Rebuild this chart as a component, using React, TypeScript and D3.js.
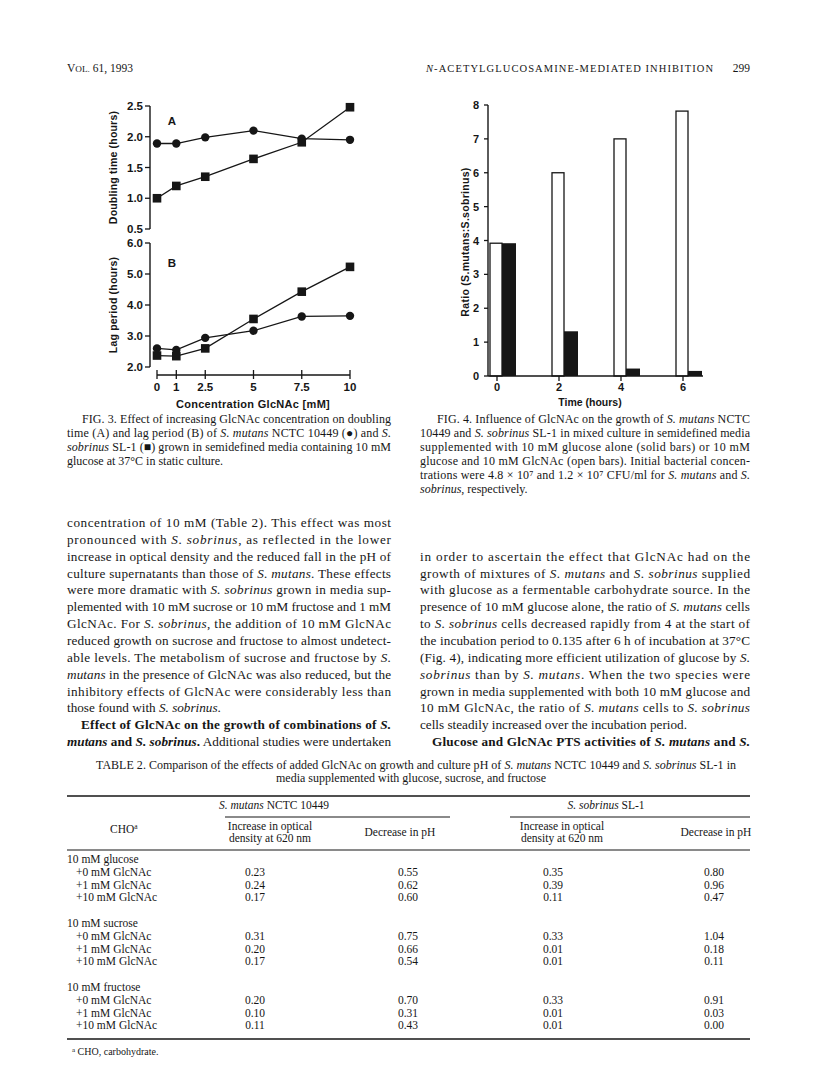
import React from 'react';
import * as d3 from 'd3';

const SERIF = '"Liberation Serif", "Times New Roman", Times, serif';
const SANS = '"Liberation Sans", Arial, Helvetica, sans-serif';
const INK = '#161616';

// FIG. 3 data (GlcNAc concentration, mM)
const glcnacConc = [0, 1, 2.5, 5, 7.5, 10];
const glcnacTickLabels = ['0', '1', '2.5', '5', '7.5', '10'];
const doublingMutans = [1.89, 1.89, 1.99, 2.1, 1.97, 1.95];
const doublingSobrinus = [1.0, 1.2, 1.35, 1.64, 1.91, 2.48];
const lagMutans = [2.6, 2.55, 2.94, 3.17, 3.63, 3.65];
const lagSobrinus = [2.37, 2.35, 2.6, 3.55, 4.43, 5.23];
const doublingTicks = [0.5, 1.0, 1.5, 2.0, 2.5];
const lagTicks = [2, 3, 4, 5, 6];

// FIG. 4 data
const hours = [0, 2, 4, 6];
const ratioOpen = [3.92, 6.0, 7.0, 7.82];
const ratioSolid = [3.92, 1.32, 0.22, 0.15];
const ratioTicks = [0, 1, 2, 3, 4, 5, 6, 7, 8];

// TABLE 2 data
const choGroups = ['10 mM glucose', '10 mM sucrose', '10 mM fructose'];
const glcnacLevels = ['+0 mM GlcNAc', '+1 mM GlcNAc', '+10 mM GlcNAc'];
const mutansOD = [[0.23, 0.24, 0.17], [0.31, 0.2, 0.17], [0.2, 0.1, 0.11]];
const mutansPH = [[0.55, 0.62, 0.6], [0.75, 0.66, 0.54], [0.7, 0.31, 0.43]];
const sobrinusOD = [[0.35, 0.39, 0.11], [0.33, 0.01, 0.01], [0.33, 0.01, 0.01]];
const sobrinusPH = [[0.8, 0.96, 0.47], [1.04, 0.18, 0.11], [0.91, 0.03, 0.0]];

// text lines: *..* italic, #..# bold, leading ~ indent, trailing $ = not justified
const fig3Caption = [
  '~FIG. 3. Effect of increasing GlcNAc concentration on doubling',
  'time (A) and lag period (B) of *S. mutans* NCTC 10449 (\u25CF) and *S.*',
  '*sobrinus* SL-1 (\u25A0) grown in semidefined media containing 10 mM',
  'glucose at 37°C in static culture.$',
];
const fig4Caption = [
  '~FIG. 4. Influence of GlcNAc on the growth of *S. mutans* NCTC',
  '10449 and *S. sobrinus* SL-1 in mixed culture in semidefined media',
  'supplemented with 10 mM glucose alone (solid bars) or 10 mM',
  'glucose and 10 mM GlcNAc (open bars). Initial bacterial concen-',
  'trations were 4.8 \u00D7 10\u2077 and 1.2 \u00D7 10\u2077 CFU/ml for *S. mutans* and *S.*',
  '*sobrinus*, respectively.$',
];
const leftBody = [
  'concentration of 10 mM (Table 2). This effect was most',
  'pronounced with *S. sobrinus*, as reflected in the lower',
  'increase in optical density and the reduced fall in the pH of',
  'culture supernatants than those of *S. mutans*. These effects',
  'were more dramatic with *S. sobrinus* grown in media sup-',
  'plemented with 10 mM sucrose or 10 mM fructose and 1 mM',
  'GlcNAc. For *S. sobrinus*, the addition of 10 mM GlcNAc',
  'reduced growth on sucrose and fructose to almost undetect-',
  'able levels. The metabolism of sucrose and fructose by *S.*',
  '*mutans* in the presence of GlcNAc was also reduced, but the',
  'inhibitory effects of GlcNAc were considerably less than',
  'those found with *S. sobrinus*.$',
  '~#Effect of GlcNAc on the growth of combinations of *S.*#',
  '#*mutans* and *S. sobrinus*.# Additional studies were undertaken',
];
const rightBody = [
  'in order to ascertain the effect that GlcNAc had on the',
  'growth of mixtures of *S. mutans* and *S. sobrinus* supplied',
  'with glucose as a fermentable carbohydrate source. In the',
  'presence of 10 mM glucose alone, the ratio of *S. mutans* cells',
  'to *S. sobrinus* cells decreased rapidly from 4 at the start of',
  'the incubation period to 0.135 after 6 h of incubation at 37°C',
  '(Fig. 4), indicating more efficient utilization of glucose by *S.*',
  '*sobrinus* than by *S. mutans*. When the two species were',
  'grown in media supplemented with both 10 mM glucose and',
  '10 mM GlcNAc, the ratio of *S. mutans* cells to *S. sobrinus*',
  'cells steadily increased over the incubation period.$',
  '~#Glucose and GlcNAc PTS activities of *S. mutans* and *S.*#',
];

function parseLine(raw: string) {
  let s = raw;
  const indent = s.startsWith('~');
  if (indent) s = s.slice(1);
  const ragged = s.endsWith('$');
  if (ragged) s = s.slice(0, -1);
  const segs: { t: string; i: boolean; b: boolean }[] = [];
  let i = false, b = false, buf = '';
  for (const ch of s) {
    if (ch === '*' || ch === '#') {
      if (buf) segs.push({ t: buf, i, b });
      buf = '';
      if (ch === '*') i = !i; else b = !b;
    } else buf += ch;
  }
  if (buf) segs.push({ t: buf, i, b });
  return { indent, ragged, segs };
}

function TextBlock({ lines, x, y0, lead, width, size, indent = 14 }: any) {
  return (
    <g fontFamily={SERIF} fontSize={size} fill={INK}>
      {lines.map((raw: string, k: number) => {
        const { indent: ind, ragged, segs } = parseLine(raw);
        const dx = ind ? indent : 0;
        return (
          <text key={k} x={x + dx} y={y0 + k * lead}
            textLength={ragged ? undefined : width - dx}
            lengthAdjust={ragged ? undefined : 'spacing'}>
            {segs.map((sg, j) => (
              <tspan key={j} fontStyle={sg.i ? 'italic' : undefined} fontWeight={sg.b ? 'bold' : undefined}>{sg.t}</tspan>
            ))}
          </text>
        );
      })}
    </g>
  );
}

function Fig3() {
  const x = d3.scaleLinear().domain([0, 10]).range([157, 350]);
  const yA = d3.scaleLinear().domain([0.5, 2.5]).range([229, 106]);
  const yB = d3.scaleLinear().domain([2, 6]).range([367, 243]);
  const ax = 150;
  const mk = (ys: d3.ScaleLinear<number, number>, vals: number[]) =>
    d3.line<number>().x((_, i) => x(glcnacConc[i])).y(v => ys(v))(vals) || '';
  const panel = (ys: d3.ScaleLinear<number, number>, ticks: number[], circ: number[], sq: number[]) => (
    <g>
      <line x1={ax} x2={ax} y1={ys.range()[1]} y2={ys.range()[0]} stroke={INK} strokeWidth={1.4} />
      {ticks.map(t => (
        <g key={t}>
          <line x1={ax - 5} x2={ax} y1={ys(t)} y2={ys(t)} stroke={INK} strokeWidth={1.3} />
          <text x={ax - 7} y={ys(t) + 4} textAnchor="end" fontSize={11.5} fontWeight="bold">{d3.format('.1f')(t)}</text>
        </g>
      ))}
      <path d={mk(ys, circ)} fill="none" stroke={INK} strokeWidth={1.3} />
      <path d={mk(ys, sq)} fill="none" stroke={INK} strokeWidth={1.3} />
      {circ.map((v, i) => <circle key={'c' + i} cx={x(glcnacConc[i])} cy={ys(v)} r={4.2} fill={INK} />)}
      {sq.map((v, i) => <rect key={'s' + i} x={x(glcnacConc[i]) - 4.3} y={ys(v) - 4.3} width={8.6} height={8.6} fill={INK} />)}
    </g>
  );
  return (
    <g fontFamily={SANS} fill={INK}>
      {panel(yA, doublingTicks, doublingMutans, doublingSobrinus)}
      {panel(yB, lagTicks, lagMutans, lagSobrinus)}
      <text x={172} y={125} textAnchor="middle" fontSize={11.5} fontWeight="bold">A</text>
      <text x={172} y={267} textAnchor="middle" fontSize={11.5} fontWeight="bold">B</text>
      <text transform="translate(117,167.5) rotate(-90)" textAnchor="middle" fontSize={10.5} fontWeight="bold" letterSpacing={0.2}>Doubling time (hours)</text>
      <text transform="translate(117,305) rotate(-90)" textAnchor="middle" fontSize={10.5} fontWeight="bold" letterSpacing={0.2}>Lag period (hours)</text>
      <line x1={x(0)} x2={x(10)} y1={375} y2={375} stroke={INK} strokeWidth={1.4} />
      {glcnacConc.map((c, i) => (
        <g key={c}>
          <line x1={x(c)} x2={x(c)} y1={370} y2={379} stroke={INK} strokeWidth={1.3} />
          <text x={x(c)} y={391} textAnchor="middle" fontSize={11.5} fontWeight="bold">{glcnacTickLabels[i]}</text>
        </g>
      ))}
      <text x={253} y={408} textAnchor="middle" fontSize={11} fontWeight="bold" letterSpacing={0.3}>Concentration GlcNAc [mM]</text>
    </g>
  );
}

function Fig4() {
  const x = d3.scaleLinear().domain([0, 6]).range([497, 683]);
  const y = d3.scaleLinear().domain([0, 8]).range([376, 105]);
  const ax = 488;
  return (
    <g fontFamily={SANS} fill={INK}>
      {hours.map((h, i) => (
        <g key={h}>
          <rect x={x(h) - 7} y={y(ratioOpen[i])} width={12} height={y(0) - y(ratioOpen[i])} fill="#fff" stroke={INK} strokeWidth={1.3} />
          <rect x={x(h) + 5} y={y(ratioSolid[i])} width={14} height={y(0) - y(ratioSolid[i])} fill={INK} />
        </g>
      ))}
      <line x1={ax} x2={ax} y1={y(8)} y2={y(0)} stroke={INK} strokeWidth={1.4} />
      <line x1={ax} x2={703} y1={y(0)} y2={y(0)} stroke={INK} strokeWidth={1.4} />
      {ratioTicks.map(t => (
        <g key={t}>
          <line x1={ax - 4} x2={ax} y1={y(t)} y2={y(t)} stroke={INK} strokeWidth={1.3} />
          <text x={ax - 9} y={y(t) + 4} textAnchor="end" fontSize={11} fontWeight="bold">{t}</text>
        </g>
      ))}
      {hours.map(h => (
        <g key={'t' + h}>
          <line x1={x(h)} x2={x(h)} y1={y(0)} y2={y(0) + 5} stroke={INK} strokeWidth={1.3} />
          <text x={x(h)} y={391} textAnchor="middle" fontSize={11} fontWeight="bold">{h}</text>
        </g>
      ))}
      <text x={590} y={406} textAnchor="middle" fontSize={10.5} fontWeight="bold">Time (hours)</text>
      <text transform="translate(469,242) rotate(-90)" textAnchor="middle" fontSize={10.5} fontWeight="bold" letterSpacing={0.3}>
        Ratio  (S.mutans:S.sobrinus)
      </text>
    </g>
  );
}

function Table2() {
  const fmt = d3.format('.2f');
  const lead = 12.8;
  const rowY = (g: number, r: number) => 863 + g * 5 * lead + r * lead;
  const dataCols = [
    { vals: mutansOD, cx: 255 },
    { vals: mutansPH, cx: 408 },
    { vals: sobrinusOD, cx: 553 },
    { vals: sobrinusPH, cx: 714 },
  ];
  return (
    <g fontFamily={SERIF} fill={INK} fontSize={11.5}>
      <text x={96} y={769} fontSize={12} textLength={640} lengthAdjust="spacing">
        TABLE 2. Comparison of the effects of added GlcNAc on growth and culture pH of <tspan fontStyle="italic">S. mutans</tspan> NCTC 10449 and <tspan fontStyle="italic">S. sobrinus</tspan> SL-1 in
      </text>
      <text x={411} y={782} fontSize={12} textAnchor="middle">media supplemented with glucose, sucrose, and fructose</text>
      <line x1={67} x2={750} y1={796} y2={796} stroke={INK} strokeWidth={1.6} />
      <text x={274} y={809} textAnchor="middle"><tspan fontStyle="italic">S. mutans</tspan> NCTC 10449</text>
      <text x={606} y={809} textAnchor="middle"><tspan fontStyle="italic">S. sobrinus</tspan> SL-1</text>
      <line x1={225} x2={450} y1={817} y2={817} stroke={INK} strokeWidth={1.2} />
      <line x1={510} x2={750} y1={817} y2={817} stroke={INK} strokeWidth={1.2} />
      <text x={110} y={833}>CHO<tspan fontSize={7.5} dy={-4}>a</tspan></text>
      <text x={270} y={830} textAnchor="middle">Increase in optical</text>
      <text x={270} y={842} textAnchor="middle">density at 620 nm</text>
      <text x={400} y={836} textAnchor="middle">Decrease in pH</text>
      <text x={562} y={830} textAnchor="middle">Increase in optical</text>
      <text x={562} y={842} textAnchor="middle">density at 620 nm</text>
      <text x={716} y={836} textAnchor="middle">Decrease in pH</text>
      <line x1={67} x2={750} y1={850} y2={850} stroke={INK} strokeWidth={1.2} />
      {choGroups.map((g, gi) => (
        <g key={g}>
          <text x={67} y={rowY(gi, 0)}>{g}</text>
          {glcnacLevels.map((lv, li) => (
            <g key={lv}>
              <text x={76} y={rowY(gi, li + 1)}>{lv}</text>
              {dataCols.map((c, ci) => (
                <text key={ci} x={c.cx} y={rowY(gi, li + 1)} textAnchor="middle">{fmt(c.vals[gi][li])}</text>
              ))}
            </g>
          ))}
        </g>
      ))}
      <line x1={67} x2={750} y1={1039} y2={1039} stroke={INK} strokeWidth={1.6} />
      <text x={72} y={1055} fontSize={10}><tspan fontSize={7} dy={-3}>a</tspan><tspan dy={3}> CHO, carbohydrate.</tspan></text>
    </g>
  );
}

export default function App() {
  return (
    <svg width={816} height={1082} viewBox="0 0 816 1082"
      style={{ position: 'absolute', left: 0, top: 0, background: '#fff' }}>
      <rect width={816} height={1082} fill="#fff" />
      <g fontFamily={SERIF} fill={INK}>
        <text x={67} y={72} fontSize={11.5}>V<tspan fontSize={9.2}>OL.</tspan> 61, 1993</text>
        <text x={426} y={72} fontSize={10.5} textLength={287} lengthAdjust="spacing">
          <tspan fontStyle="italic">N</tspan>-ACETYLGLUCOSAMINE-MEDIATED INHIBITION
        </text>
        <text x={750} y={72} fontSize={11.5} textAnchor="end">299</text>
      </g>
      <Fig3 />
      <Fig4 />
      <TextBlock lines={fig3Caption} x={67} y0={423} lead={14} width={324} size={12} indent={15} />
      <TextBlock lines={fig4Caption} x={420} y0={423} lead={14} width={330} size={12} indent={17} />
      <TextBlock lines={leftBody} x={67} y0={527} lead={16.85} width={324} size={13.2} indent={14} />
      <TextBlock lines={rightBody} x={420} y0={527 + 2 * 16.85} lead={16.85} width={330} size={13.2} indent={12} />
      <Table2 />
    </svg>
  );
}
